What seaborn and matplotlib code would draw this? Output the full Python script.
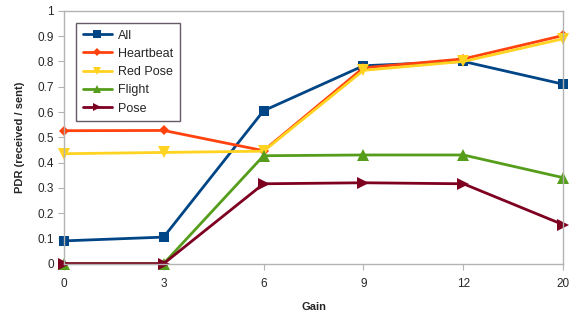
import numpy as np
import pandas as pd
import seaborn as sns
import matplotlib.pyplot as plt

# dados
gain = ['0', '3', '6', '9', '12', '20']
series = ['All', 'Heartbeat', 'Red Pose', 'Flight', 'Pose']
all_pdr = [0.09, 0.105, 0.605, 0.783, 0.80, 0.71]
heartbeat = [0.526, 0.527, 0.447, 0.775, 0.81, 0.903]
red_pose = [0.435, 0.44, 0.445, 0.765, 0.80, 0.89]
flight = [0.0, 0.0, 0.427, 0.43, 0.43, 0.34]
pose = [0.0, 0.0, 0.316, 0.32, 0.316, 0.154]

cores = ['#004586', '#ff420e', '#ffd320', '#579d1c', '#7e0021']
marcadores = ['s', 'D', 'v', '^', '>']
tamanhos = [7, 5, 8, 8, 8]

valores = [all_pdr, heartbeat, red_pose, flight, pose]
df = pd.DataFrame({'pos': np.arange(len(gain))})
for nome, v in zip(series, valores):
    df[nome] = v

sns.set_style('white')
plt.rcParams['font.family'] = ['Liberation Sans', 'DejaVu Sans']

fig, ax = plt.subplots(figsize=(5.69, 3.12), dpi=100)
for nome, cor, m, ms in zip(series, cores, marcadores, tamanhos):
    sns.lineplot(data=df, x='pos', y=nome, ax=ax, color=cor, marker=m,
                 markersize=ms, markeredgewidth=0, linewidth=2, label=nome,
                 clip_on=False)

ax.set_xlim(0, len(gain) - 1)
ax.set_ylim(0, 1)
ax.set_xticks(np.arange(len(gain)))
ax.set_xticklabels(gain)
ax.set_yticks(np.arange(0, 1.01, 0.1))
ax.set_yticklabels(['0'] + ['%.1f' % t for t in np.arange(0.1, 0.95, 0.1)] + ['1'])
ax.tick_params(axis='both', labelsize=8.5, length=4, color='#b3b3b3',
               direction='out', left=True, bottom=True, pad=3)
ax.tick_params(axis='x', pad=6)
for s in ax.spines.values():
    s.set_color('#b3b3b3')
    s.set_linewidth(1)
ax.set_xlabel('Gain', fontsize=8, fontweight='bold', labelpad=9)
ax.set_ylabel('PDR (received / sent)', fontsize=8, fontweight='bold', labelpad=9)

leg = ax.legend(loc='upper left', bbox_to_anchor=(0.012, 0.978), fontsize=9,
                frameon=True, fancybox=False, handlelength=2.3, markerscale=0.8,
                labelspacing=0.5, borderpad=0.55, handletextpad=0.5)
leg.get_frame().set_edgecolor('#3f2f3f')
leg.get_frame().set_linewidth(1)

plt.subplots_adjust(left=0.112, right=0.99, top=0.965, bottom=0.155)
plt.savefig('out.png', dpi=100)
